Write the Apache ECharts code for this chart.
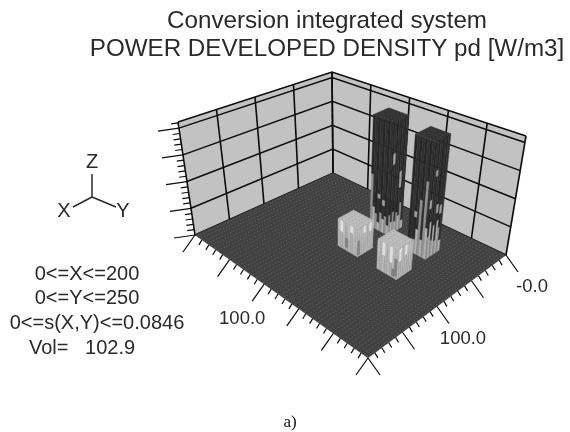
<!DOCTYPE html>
<html><head><meta charset="utf-8">
<style>html,body{margin:0;padding:0;background:#fff}#c{width:570px;height:432px;filter:blur(0.45px)}</style>
<script src="https://cdn.jsdelivr.net/npm/echarts@6/dist/echarts.min.js"></script>
</head><body><div id="c"></div>
<script>
const xTicks=[0,50,100,150,200];
const yTicks=[0,50,100,150,200,250];
const zTicks=[0,0.02,0.04,0.06,0.08];
const xMax=200, yMax=250, zMax=0.0846;
const xLabels=[[0,'-0.0'],[100,'100.0']];
const yLabels=[[100,'100.0']];
const infoLines=['0<=X<=200','0<=Y<=250','0<=s(X,Y)<=0.0846','Vol=   102.9'];
const titleLines='Conversion integrated system\nPOWER DEVELOPED DENSITY pd [W/m3]';

// rods: centre in X, centre in Y, half sizes, height
const rodX=[39,86,44,86];
const rodY=[115,118,174,174];
const rodHalfX=[10,11,10,11];
const rodHalfY=[13,14,13,14];
const rodZ=[0.0846,0.020,0.0846,0.021];
// per rod: height of the lit lower part for each facet, read left to right
const rodLit=[
 [.040,.016,.012,.006,.014,.010,.013,.007,.015,.009,.016,.008,.014,.011,.020,.006],
 [.012,.014,.010,.017,.008,.015,.011,.006,.016,.009,.014,.007,.012,.016,.008,.012],
 [.004,.006,.010,.018,.040,.012,.055,.022,.016,.026,.012,.022,.010,.024,.018,.008],
 [.008,.016,.006,.014,.018,.009,.015,.007,.016,.011,.017,.006,.013,.009,.015,.007]
];
// per rod: isolated bright facets [facet, z from, z to]
const rodFlecks=[
 [[9,.052,.060],[13,.032,.044],[5,.020,.024],[3,.024,.027]],
 [[1,.012,.020],[5,.015,.020],[11,.015,.020],[14,.014,.020]],
 [[2,.026,.030],[8,.036,.042],[12,.030,.036],[14,.028,.034],[10,.058,.062]],
 [[2,.012,.021],[5,.010,.021],[9,.012,.021],[12,.014,.021]]
];
// per rod: isolated dark seams [facet, z from, z to]
const rodSeams=[
 [],
 [[3,.002,.009],[8,.001,.011]],
 [],
 [[7,.002,.014],[6,.001,.006]]
];

const darkLook={top:'#333333',up:['#262626','#303030'],low:['#8f8f8f','#aeaeae'],fleck:'#a0a0a0',seam:'#222222'};
const paleLook={top:'#bcbcbc',up:['#bcbcbc','#b6b6b6'],low:['#b4b4b4','#aeaeae'],fleck:'#e0e0e0',seam:'#808080'};
const looks=[darkLook,paleLook,darkLook,paleLook];

// box geometry: corners of floor and ceiling [back, left, front, right]
const floorQ=[[333,173],[195,235],[368,358],[506,255]];
const ceilQ=[[332,72],[178,122],[372,228],[526,136]];
function bil(q,u,v,k){return q[0][k]*(1-u)*(1-v)+q[1][k]*u*(1-v)+q[2][k]*u*v+q[3][k]*(1-u)*v;}
function P(X,Y,Z){
  const u=X/xMax,v=Y/yMax,w=Z/zMax;
  const fx=bil(floorQ,u,v,0),fy=bil(floorQ,u,v,1),cx=bil(ceilQ,u,v,0),cy=bil(ceilQ,u,v,1);
  return [fx+(cx-fx)*w,fy+(cy-fy)*w];
}
function off(p,dx,dy){return [p[0]+dx,p[1]+dy];}

function layer(name,shapes,z){
  return {type:'custom',name,coordinateSystem:'cartesian2d',silent:true,clip:false,z,
    data:shapes.map((s,i)=>[i]),encode:{x:0,y:0},
    renderItem:function(params,api){
      const s=shapes[params.dataIndex];
      if(s.text){const c=api.coord(s.at);
        return {type:'text',style:{text:s.text,x:c[0],y:c[1],font:s.font,fill:s.fill,align:'center',verticalAlign:'middle'}};}
      const pts=s.pts.map(p=>api.coord(p));
      if(s.fill) return {type:'polygon',shape:{points:pts},style:{fill:s.fill,stroke:s.fill,lineWidth:0.4}};
      return {type:'polyline',shape:{points:pts},style:{fill:null,stroke:s.stroke,lineWidth:s.lw}};
    }};
}

const walls=[
 {pts:[P(0,0,0),P(xMax,0,0),P(xMax,0,zMax),P(0,0,zMax)],fill:'#c2c2c2'},
 {pts:[P(0,0,0),P(0,yMax,0),P(0,yMax,zMax),P(0,0,zMax)],fill:'#c2c2c2'}
];
const gridShapes=[];
const ink='#0c0c0c';
xTicks.forEach(x=>gridShapes.push({pts:[P(x,0,0),P(x,0,zMax)],stroke:ink,lw:1.6}));
yTicks.forEach(y=>gridShapes.push({pts:[P(0,y,0),P(0,y,zMax)],stroke:ink,lw:1.6}));
zTicks.concat([zMax]).forEach(z=>{
  gridShapes.push({pts:[P(xMax,0,z),P(0,0,z),P(0,yMax,z)],stroke:ink,lw:1.5});
});
const floorShapes=[{pts:[P(0,0,0),P(xMax,0,0),P(xMax,yMax,0),P(0,yMax,0)],fill:'#424242'}];
const meshPts=[];
for(let x=2;x<xMax;x+=4)for(let y=2.5;y<yMax;y+=5)meshPts.push(P(x,y,0));
const tickShapes=[];
for(let z=0,i=0;z<=zMax;z=++i*0.004){
  const major=i%5===0,p=P(xMax,0,z);
  tickShapes.push({pts:[p,off(p,major?-21:-7,major?3:1)],stroke:ink,lw:1.2});
}
for(let y=0,i=0;y<=yMax;y=++i*10){
  const major=i%5===0,p=P(xMax,y,0);
  tickShapes.push({pts:[p,off(p,major?-12:-3,major?17:5)],stroke:ink,lw:1.2});
}
for(let x=0,i=0;x<=xMax;x=++i*10){
  const major=i%5===0,p=P(x,yMax,0);
  tickShapes.push({pts:[p,off(p,major?12:3,major?17:5)],stroke:ink,lw:1.2});
}
const rodShapes=[],darkTopDots=[],paleTopDots=[];
rodX.forEach((cx,b)=>{
  const x0=cx-rodHalfX[b],x1=cx+rodHalfX[b],y0=rodY[b]-rodHalfY[b],y1=rodY[b]+rodHalfY[b],zt=rodZ[b],L=looks[b];
  const n=rodLit[b].length,h=n/2;
  const foot=i=>i<=h?[x1,y0+(y1-y0)*i/h]:[x1-(x1-x0)*(i-h)/h,y1];
  function quad(i,z0,z1,fill){const a=foot(i),c=foot(i+1);
    rodShapes.push({pts:[P(a[0],a[1],z0),P(c[0],c[1],z0),P(c[0],c[1],z1),P(a[0],a[1],z1)],fill});}
  rodLit[b].forEach((lit,i)=>{
    const lz=Math.min(lit,zt);
    quad(i,0,lz,L.low[i%2]);
    quad(i,lz,zt,L.up[i%2]);
  });
  rodFlecks[b].forEach(f=>quad(f[0],f[1],Math.min(f[2],zt),L.fleck));
  rodSeams[b].forEach(f=>quad(f[0],f[1],Math.min(f[2],zt),L.seam));
  rodShapes.push({pts:[P(x0,y0,zt),P(x1,y0,zt),P(x1,y1,zt),P(x0,y1,zt)],fill:L.top});
  for(let x=x0+2;x<x1;x+=4)for(let y=y0+2.5;y<y1;y+=5)(L===darkLook?darkTopDots:paleTopDots).push(P(x,y,zt));
});
const labelFont='18.5px "Liberation Sans", Arial, sans-serif';
const labelShapes=[];
xLabels.forEach(l=>labelShapes.push({text:l[1],at:off(P(l[0],yMax,0),26,32),font:labelFont,fill:'#2a2a2a'}));
yLabels.forEach(l=>labelShapes.push({text:l[1],at:off(P(xMax,l[0],0),-22,35),font:labelFont,fill:'#2a2a2a'}));

const gText=(text,x,y,font,fill)=>({type:'text',silent:true,style:{text,x,y,font:font,fill:fill||'#2a2a2a',align:'center',verticalAlign:'middle'}});
const gLine=(x1,y1,x2,y2)=>({type:'line',silent:true,shape:{x1,y1,x2,y2},style:{stroke:'#2a2a2a',lineWidth:1.5}});
const sans='20px "Liberation Sans", Arial, sans-serif';
const infoY=[274,298,323,348];
const infoCx=[87,87,97,82];
const dots=(name,data,color,z,size)=>({type:'scatter',name,data,symbol:'rect',symbolSize:size,silent:true,z,itemStyle:{color},animation:false});

const chart=echarts.init(document.getElementById('c'),null,{renderer:'canvas'});
chart.setOption({
  animation:false,backgroundColor:'#fff',
  title:{text:titleLines,left:322,top:2,textAlign:'center',
    textStyle:{fontFamily:'"Liberation Sans", Arial, sans-serif',fontSize:24.2,fontWeight:'normal',color:'#2a2a2a',lineHeight:28}},
  grid:{left:0,right:0,top:0,bottom:0},
  xAxis:{type:'value',min:0,max:570,show:false},
  yAxis:{type:'value',min:0,max:432,inverse:true,show:false},
  graphic:[
    gLine(92,197,92,174),gLine(92,197,73,207),gLine(92,197,116,207),
    gText('Z',92,162,sans),gText('X',64,211,sans),gText('Y',123,211,sans),
    ...infoLines.map((t,i)=>gText(t,infoCx[i],infoY[i],sans)),
    gText('a)',290,423,'17px "Liberation Serif", "Times New Roman", serif','#111')
  ],
  series:[
    layer('walls',walls,1),
    layer('grid',gridShapes,2),
    layer('floor',floorShapes,3),
    dots('mesh',meshPts,'#666666',4,1),
    layer('ticks',tickShapes,5),
    layer('rods',rodShapes,6),
    dots('darkTop',darkTopDots,'#4c4c4c',7,1),
    dots('paleTop',paleTopDots,'#989898',7,1),
    layer('labels',labelShapes,8)
  ]
});
</script></body></html>
